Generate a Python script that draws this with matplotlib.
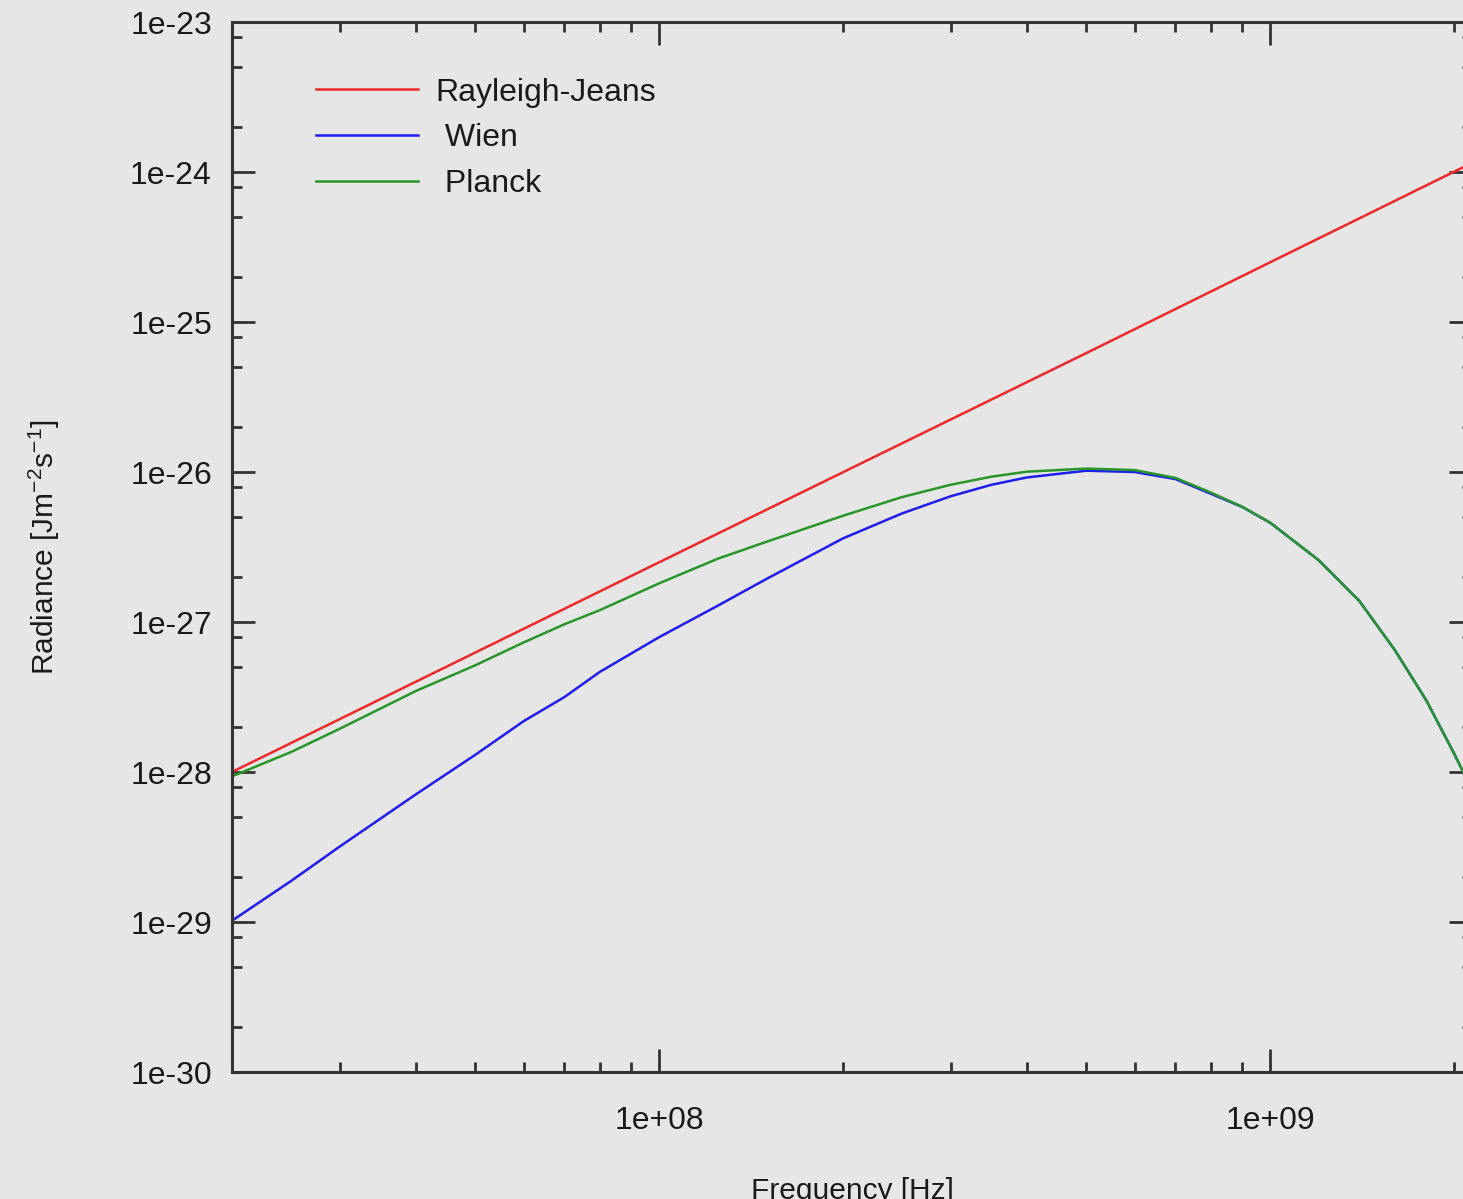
import numpy as np
import matplotlib
matplotlib.use("Agg")
import matplotlib.pyplot as plt
import matplotlib.ticker as mticker

FREQ = [2e7, 2.5e7, 3e7, 4e7, 5e7, 6e7, 7e7, 8e7,
        1e8, 1.25e8, 1.5e8, 2e8, 2.5e8, 3e8, 3.5e8, 4e8,
        5e8, 6e8, 7e8, 8e8, 9e8, 1e9, 1.2e9, 1.4e9,
        1.6e9, 1.8e9, 2e9, 2.14e9]

WIEN = [1.02e-29, 1.88e-29, 3.18e-29, 7.10e-29, 1.30e-28, 2.18e-28, 3.16e-28, 4.65e-28,
        7.92e-28, 1.29e-27, 1.94e-27, 3.61e-27, 5.30e-27, 6.89e-27, 8.22e-27, 9.20e-27,
        1.02e-26, 1.00e-26, 8.97e-27, 7.16e-27, 5.85e-27, 4.59e-27, 2.59e-27, 1.38e-27,
        6.50e-28, 3.02e-28, 1.33e-28, 7.59e-29]

PLANCK = [9.35e-29, 1.36e-28, 1.94e-28, 3.47e-28, 5.14e-28, 7.30e-28, 9.66e-28, 1.20e-27,
          1.81e-27, 2.65e-27, 3.43e-27, 5.11e-27, 6.81e-27, 8.22e-27, 9.31e-27, 1.005e-26,
          1.054e-26, 1.03e-26, 9.14e-27, 7.29e-27, 5.87e-27, 4.60e-27, 2.59e-27, 1.38e-27,
          6.50e-28, 3.02e-28, 1.33e-28, 7.59e-29]

RJ_FREQ = [2e7, 1e8, 5e8, 1e9, 2.14e9]
RAYLEIGH_JEANS = [1.0e-28, 2.5e-27, 6.2e-26, 2.5e-25, 1.15e-24]

# leading blanks as in the original key, where the short names sit a bit right
LABELS = ["Rayleigh-Jeans", " Wien", " Planck"]
COLORS = ["#f02828", "#1e1ef0", "#289628"]

BG = "#e6e6e6"
INK = "#333333"
FS = 23

plt.rcParams["font.family"] = ["Liberation Sans", "DejaVu Sans"]

fig = plt.figure(figsize=(14.63, 11.99), dpi=100, facecolor=BG)
# axes box runs a little past the right edge, like the cropped original
ax = fig.add_axes([232 / 1463, 127 / 1199, 1240 / 1463, 1050 / 1199])
ax.set_facecolor(BG)

ax.plot(RJ_FREQ, RAYLEIGH_JEANS, color=COLORS[0], lw=1.8, label=LABELS[0])
ax.plot(FREQ, WIEN, color=COLORS[1], lw=1.8, label=LABELS[1])
ax.plot(FREQ, PLANCK, color=COLORS[2], lw=1.8, label=LABELS[2])

ax.set_xscale("log")
ax.set_yscale("log")
ax.set_xlim(2e7, 2.14e9)
ax.set_ylim(1e-30, 1e-23)

# ── ticks ─────────────────────────────────────────────
ax.xaxis.set_major_locator(mticker.LogLocator(base=10, numticks=20))
ax.xaxis.set_minor_locator(mticker.LogLocator(base=10, subs=np.arange(2, 10), numticks=20))
ax.yaxis.set_major_locator(mticker.LogLocator(base=10, numticks=20))
ax.yaxis.set_minor_locator(mticker.LogLocator(base=10, subs=(2, 5, 8), numticks=20))
fmt = mticker.FuncFormatter(lambda v, pos: f"{v:.0e}")
ax.xaxis.set_major_formatter(fmt)
ax.yaxis.set_major_formatter(fmt)
ax.xaxis.set_minor_formatter(mticker.NullFormatter())
ax.yaxis.set_minor_formatter(mticker.NullFormatter())

ax.tick_params(which="both", direction="in", top=True, right=True, color=INK)
ax.tick_params(which="major", length=16.5, width=2.0, labelsize=FS, labelcolor="#1a1a1a")
ax.tick_params(which="minor", length=7, width=2.0)
ax.tick_params(axis="y", which="major", pad=14.4)
ax.tick_params(axis="x", which="major", pad=24.5)

for sp in ax.spines.values():
    sp.set_color(INK)
    sp.set_linewidth(2.2)

ax.set_xlabel("Frequency [Hz]", fontsize=21.5, color="#1a1a1a")
ax.set_ylabel(r"Radiance [Jm$^{\mathregular{-2}}$s$^{\mathregular{-1}}$]",
              fontsize=21.5, color="#1a1a1a")
ax.xaxis.set_label_coords(0.5, -0.1)
ax.yaxis.set_label_coords(-0.137, 0.5)

leg = ax.legend(loc="upper left", bbox_to_anchor=(0.0677, 0.947), frameon=False,
                fontsize=FS, handlelength=3.2, handletextpad=0.55,
                labelspacing=0.49, borderpad=0, borderaxespad=0)
for t in leg.get_texts():
    t.set_color("#1a1a1a")

fig.savefig("out.png", dpi=100, facecolor=BG)
print("[OK] out.png")
